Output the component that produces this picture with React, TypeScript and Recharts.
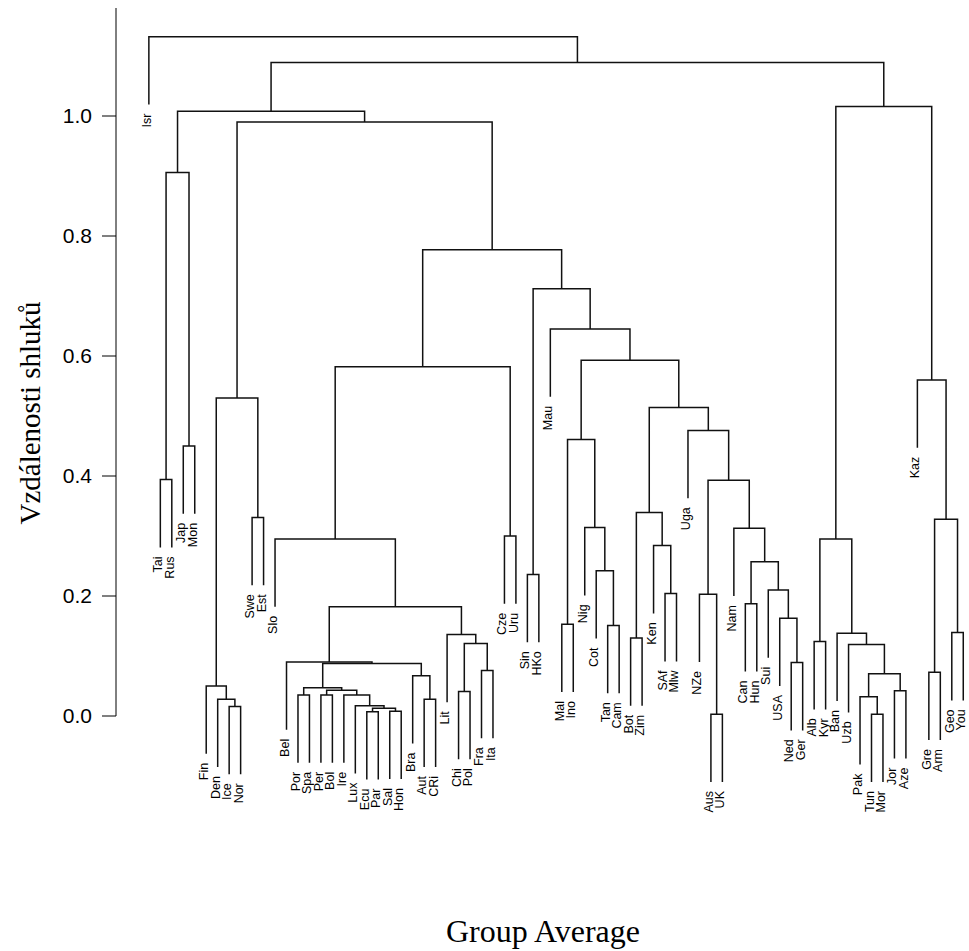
import React from "react";
import {
  ComposedChart,
  Customized,
  Line,
  ReferenceLine,
  Scatter,
  XAxis,
  YAxis,
} from "recharts";

// Leaf order as drawn, left to right.
const leafNames = [
  "Isr", "Tai", "Rus", "Jap", "Mon", "Fin", "Den", "Ice", "Nor", "Swe", "Est", "Slo",
  "Bel", "Por", "Spa", "Per", "Bol", "Ire", "Lux", "Ecu", "Par", "Sal", "Hon", "Bra",
  "Aut", "CRi", "Lit", "Chi", "Pol", "Fra", "Ita", "Cze", "Uru", "Sin", "HKo", "Mau",
  "Mal", "Ino", "Nig", "Cot", "Tan", "Cam", "Bot", "Zim", "Ken", "SAf", "Mlw", "Uga",
  "NZe", "Aus", "UK", "Nam", "Can", "Hun", "Sui", "USA", "Ned", "Ger", "Alb", "Kyr",
  "Ban", "Uzb", "Pak", "Tun", "Mor", "Jor", "Aze", "Kaz", "Gre", "Arm", "Geo", "You",
];

// Each merge joins two children: a leaf name, or the index of an earlier merge.
type Ref = string | number;
const mergePairs: [Ref, Ref][] = [
  ["Tai", "Rus"], ["Jap", "Mon"], [0, 1], ["Ice", "Nor"], ["Den", 3], ["Fin", 4],
  ["Swe", "Est"], [5, 6], ["Por", "Spa"], ["Per", "Bol"], ["Ecu", "Par"], ["Sal", "Hon"],
  [10, 11], ["Lux", 12], ["Ire", 13], [9, 14], [8, 15], ["Aut", "CRi"], ["Bra", 17],
  [16, 18], ["Bel", 19], ["Chi", "Pol"], ["Fra", "Ita"], [21, 22], ["Lit", 23], [20, 24],
  ["Slo", 25], ["Cze", "Uru"], [26, 27], ["Sin", "HKo"], ["Mal", "Ino"], ["Tan", "Cam"],
  ["Cot", 31], ["Nig", 32], [30, 33], ["Bot", "Zim"], ["SAf", "Mlw"], ["Ken", 36],
  [35, 37], ["Aus", "UK"], ["NZe", 39], ["Ned", "Ger"], ["USA", 41], ["Sui", 42],
  ["Can", "Hun"], [44, 43], ["Nam", 45], [40, 46], ["Uga", 47], [38, 48], [34, 49],
  ["Mau", 50], [29, 51], [28, 52], [7, 53], [2, 54], ["Alb", "Kyr"], ["Tun", "Mor"],
  ["Pak", 57], ["Jor", "Aze"], [58, 59], ["Uzb", 60], ["Ban", 61], [56, 62],
  ["Gre", "Arm"], ["Geo", "You"], [64, 65], ["Kaz", 66], [63, 67], [55, 68], ["Isr", 69],
];

const mergeHeights = [
  0.394, 0.45, 0.906, 0.016, 0.028, 0.05, 0.331, 0.53, 0.035, 0.035, 0.007, 0.008,
  0.013, 0.017, 0.035, 0.043, 0.047, 0.028, 0.067, 0.0875, 0.09, 0.041, 0.076, 0.121,
  0.136, 0.182, 0.295, 0.3, 0.582, 0.236, 0.153, 0.151, 0.242, 0.314, 0.461, 0.13,
  0.204, 0.284, 0.339, 0.003, 0.203, 0.089, 0.163, 0.21, 0.187, 0.257, 0.313, 0.393,
  0.476, 0.514, 0.593, 0.645, 0.712, 0.777, 0.99, 1.008, 0.124, 0.003, 0.032, 0.042,
  0.0705, 0.119, 0.138, 0.295, 0.073, 0.139, 0.328, 0.56, 1.016, 1.089, 1.132,
];

const yTicks = [0, 0.2, 0.4, 0.6, 0.8, 1.0];
const HANG = 0.113;
const X_MIN = -1.865;
const X_MAX = 72.5;

const mergeX: number[] = [];
const xOf = (r: Ref) => (typeof r === "string" ? leafNames.indexOf(r) + 1 : mergeX[r]);
const segments: { x: number; y: number }[][] = [];
const leafPoints: { x: number; y: number; name: string }[] = [];

mergePairs.forEach(([a, b], i) => {
  const h = mergeHeights[i];
  const xa = xOf(a);
  const xb = xOf(b);
  mergeX[i] = (xa + xb) / 2;
  const low = (r: Ref) => (typeof r === "string" ? h - HANG : mergeHeights[r]);
  segments.push([
    { x: xa, y: low(a) },
    { x: xa, y: h },
    { x: xb, y: h },
    { x: xb, y: low(b) },
  ]);
  for (const r of [a, b]) {
    if (typeof r === "string") leafPoints.push({ x: xOf(r), y: h - HANG, name: r });
  }
});

const SANS = "'Liberation Sans', Arial, sans-serif";
const SERIF = "'Liberation Serif', 'Times New Roman', serif";

function LeafLabel(props: any) {
  const { cx, cy, payload } = props;
  const x = cx - 2;
  const y = cy + 9;
  return (
    <text
      x={x}
      y={y}
      transform={`rotate(-90 ${x} ${y})`}
      textAnchor="end"
      dominantBaseline="central"
      fontSize={12.5}
      fontFamily={SANS}
      fill="#000"
    >
      {payload.name}
    </text>
  );
}

function YTitle(props: any) {
  const vb = props.viewBox;
  const x = vb.x + 40;
  const y = vb.y + vb.height / 2 - 9;
  return (
    <text
      x={x}
      y={y}
      transform={`rotate(-90 ${x} ${y})`}
      textAnchor="middle"
      fontSize={29}
      fontFamily={SERIF}
      fill="#000"
    >
      Vzdálenosti shluků
    </text>
  );
}

const BottomTitle = () => (
  <text x={543} y={942} textAnchor="middle" fontSize={32} fontFamily={SERIF} fill="#000">
    Group Average
  </text>
);

export default function App() {
  return (
    <div style={{ position: "absolute", left: 0, top: 0, background: "#fff" }}>
      <ComposedChart width={969} height={951} margin={{ top: 8, right: 0, bottom: 115, left: 0 }}>
        <XAxis type="number" dataKey="x" domain={[X_MIN, X_MAX]} hide />
        <YAxis
          type="number"
          dataKey="y"
          domain={[-0.2, 1.18]}
          ticks={yTicks}
          tickFormatter={(v) => Number(v).toFixed(1)}
          width={116}
          axisLine={false}
          tickSize={14}
          tickMargin={10}
          tickLine={{ stroke: "#000" }}
          tick={{ fill: "#000", fontSize: 21, fontFamily: SANS }}
          label={{ content: YTitle }}
        />
        <ReferenceLine
          segment={[
            { x: X_MIN, y: 0 },
            { x: X_MIN, y: 1.18 },
          ]}
          stroke="#000"
          ifOverflow="visible"
        />
        {segments.map((d, i) => (
          <Line
            key={i}
            data={d}
            dataKey="y"
            type="linear"
            stroke="#111"
            strokeWidth={1.5}
            dot={false}
            activeDot={false}
            isAnimationActive={false}
          />
        ))}
        <Scatter data={leafPoints} dataKey="y" shape={LeafLabel} isAnimationActive={false} />
        <Customized component={BottomTitle} />
      </ComposedChart>
    </div>
  );
}
